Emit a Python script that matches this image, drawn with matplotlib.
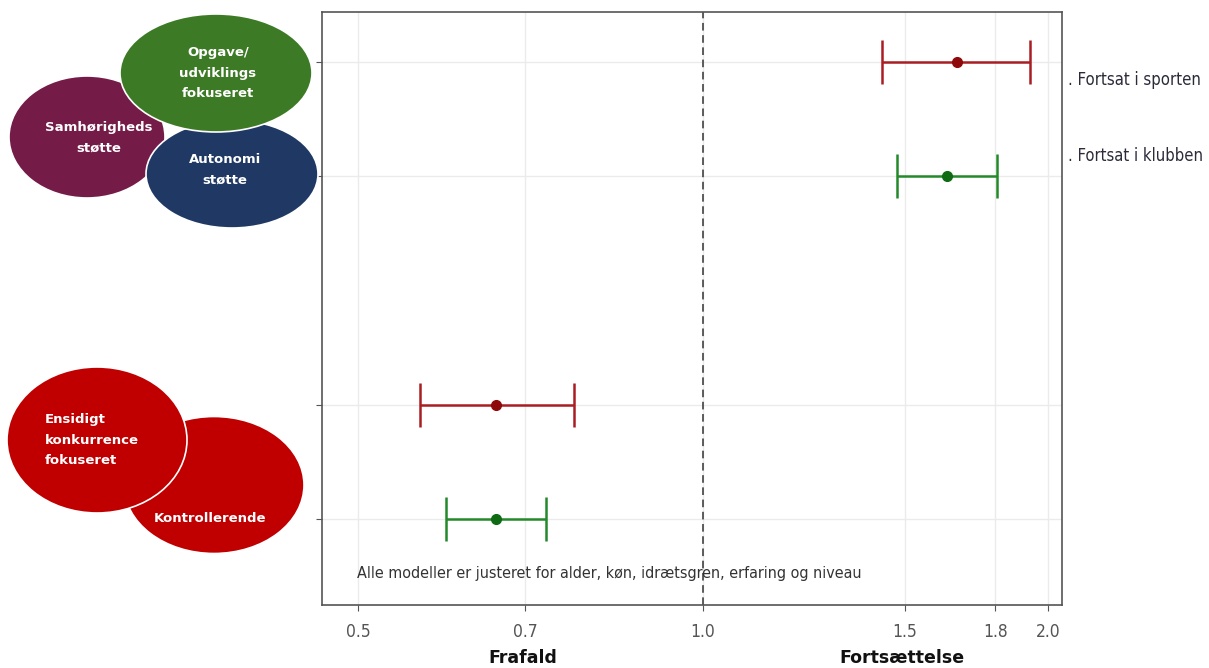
import matplotlib
matplotlib.use("Agg")
import matplotlib.pyplot as plt
from matplotlib.patches import Ellipse
from matplotlib.ticker import FixedLocator, NullLocator
from matplotlib import font_manager

# ---- data -----------------------------------------------------------------
rows     = ["Positiv - sporten", "Positiv - klubben", "Negativ - sporten", "Negativ - klubben"]
row_y    = [5, 4, 2, 1]
estimate = [1.667, 1.634, 0.660, 0.660]
ci_low   = [1.432, 1.477, 0.566, 0.597]
ci_high  = [1.930, 1.804, 0.771, 0.730]
outcome  = ["sport", "klub", "sport", "klub"]

xticks      = [0.5, 0.7, 1.0, 1.5, 1.8, 2.0]
xticklabels = ["0.5", "0.7", "1.0", "1.5", "1.8", "2.0"]

legend_labels = [". Fortsat i sporten", ". Fortsat i klubben"]
note = "Alle modeller er justeret for alder, køn, idrætsgren, erfaring og niveau"

RED_LINE, RED_DOT = "#A91E22", "#8E0A0A"
GRN_LINE, GRN_DOT = "#23892A", "#0E6B14"
line_col = {"sport": RED_LINE, "klub": GRN_LINE}
dot_col = {"sport": RED_DOT, "klub": GRN_DOT}

# a condensed sans if one is installed, else Liberation Sans (Arial metrics)
cond = [f for f in font_manager.fontManager.ttflist
        if f.stretch in ("condensed", "semi-condensed") and "Sans" in f.name
        and f.style == "normal" and f.weight in (400, "normal", "regular")]
if cond:
    NARROW = font_manager.FontProperties(fname=cond[0].fname)
else:
    NARROW = font_manager.FontProperties(family="Liberation Sans")

fig = plt.figure(figsize=(12.09, 6.68), dpi=100)
ax = fig.add_axes([0.2663, 0.0943, 0.612, 0.8877])

for y, e, lo, hi, o in zip(row_y, estimate, ci_low, ci_high, outcome):
    ax.errorbar([e], [y], xerr=[[e - lo], [hi - e]], fmt="o", color=line_col[o],
                ecolor=line_col[o], elinewidth=1.8, capsize=16, capthick=1.8,
                markersize=7, markerfacecolor=dot_col[o], markeredgecolor=dot_col[o],
                zorder=3)

ax.axvline(1.0, color="#333333", linestyle=(0, (5, 3)), linewidth=1.1, zorder=2)

ax.set_xscale("log")
ax.set_xlim(0.465, 2.057)
ax.set_ylim(0.246, 5.44)
ax.xaxis.set_major_locator(FixedLocator(xticks))
ax.xaxis.set_minor_locator(NullLocator())
ax.set_xticklabels(xticklabels)
for lab in ax.get_xticklabels():
    lab.set_fontproperties(NARROW)
    lab.set_fontsize(12.5)
    lab.set_color("#555555")
ax.set_yticks(row_y)
ax.set_yticklabels([])
ax.tick_params(axis="both", colors="#555555", length=4, width=0.8)
ax.tick_params(axis="x", pad=9)
ax.grid(True, color="#EBEBEB", linewidth=1.0, zorder=0)
ax.set_axisbelow(True)
for s in ax.spines.values():
    s.set_color("#555555")
    s.set_linewidth(1.2)

note_txt = ax.text(0.499, 0.52, note, fontproperties=NARROW, fontsize=13, color="#333333",
                   ha="left", va="center")

# ---- overlay in pixel coordinates: ellipses and outer labels ---------------
ov = fig.add_axes([0, 0, 1, 1], zorder=5)
ov.set_xlim(0, 1209)
ov.set_ylim(668, 0)
ov.axis("off")
ov.patch.set_alpha(0)

bubbles = [
    # (cx, cy, w, h, color, text, tx, ty, ha)
    (87, 137, 156, 122, "#741B47", "Samhørigheds\nstøtte", 99, 138, "center"),
    (232, 174, 172, 108, "#1F3864", "Autonomi\nstøtte", 225, 170, "center"),
    (216, 73, 192, 118, "#3D7A26", "Opgave/\nudviklings\nfokuseret", 218, 73, "center"),
    (214, 485, 180, 137, "#C00000", "Kontrollerende", 210, 518, "center"),
    (97, 440, 180, 146, "#C00000", "Ensidigt\nkonkurrence\nfokuseret", 45, 440, "left"),
]
for cx, cy, w, h, col, txt, tx, ty, ha in bubbles:
    ov.add_patch(Ellipse((cx, cy), w, h, facecolor=col, edgecolor="white", linewidth=1.2))
    ov.text(tx, ty, txt, color="white", fontsize=9.5, fontweight="bold",
            ha=ha, va="center", linespacing=1.75,
            multialignment="center" if ha == "center" else "left")

leg1 = ov.text(1068, 80, legend_labels[0], fontproperties=NARROW, fontsize=17,
               color="#2B2B3A", ha="left", va="center")
leg2 = ov.text(1068, 156, legend_labels[1], fontproperties=NARROW, fontsize=17,
               color="#2B2B3A", ha="left", va="center")

ov.text(523, 658, "Frafald", fontsize=12.5, fontweight="bold", color="#111111",
        ha="center", va="center")
ov.text(902, 658, "Fortsættelse", fontsize=12.5, fontweight="bold", color="#111111",
        ha="center", va="center")

# shrink the narrow-font texts to the widths they have in the reference
renderer = fig.canvas.get_renderer()
for t, target in [(leg1, 132), (leg2, 134), (note_txt, 507)]:
    w = t.get_window_extent(renderer).width
    t.set_fontsize(t.get_fontsize() * target / w)

fig.savefig("out.png", dpi=100)
